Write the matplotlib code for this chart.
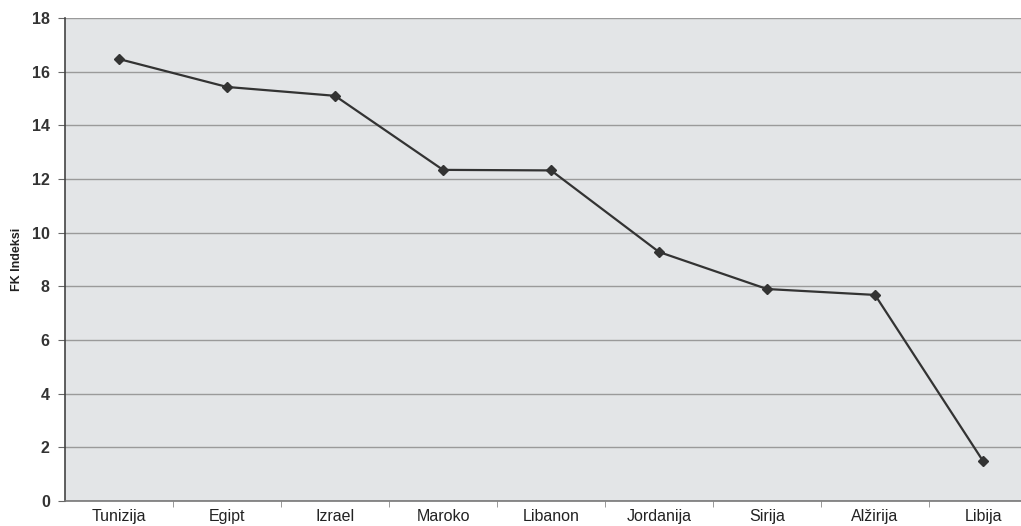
import matplotlib
matplotlib.use("Agg")
import matplotlib.pyplot as plt
from matplotlib.ticker import FixedLocator, MultipleLocator

countries = ["Tunizija", "Egipt", "Izrael", "Maroko", "Libanon",
             "Jordanija", "Sirija", "Alžirija", "Libija"]
fk_index = [16.47, 15.43, 15.10, 12.34, 12.32, 9.28, 7.90, 7.68, 1.49]

BG_COLOR = "#e3e5e7"
GRID_COLOR = "#9a9a9a"
LINE_COLOR = "#333333"

plt.rcParams["font.family"] = ["Liberation Sans", "DejaVu Sans"]

fig = plt.figure(figsize=(10.21, 5.26), dpi=100)
# plot area runs slightly past the right edge of the canvas
ax = fig.add_axes([0.0637, 0.0475, 0.952, 0.9183])
ax.set_facecolor(BG_COLOR)

x = list(range(len(countries)))
ax.plot(x, fk_index, color=LINE_COLOR, linewidth=1.6,
        marker="D", markersize=5.5, markerfacecolor=LINE_COLOR,
        markeredgecolor=LINE_COLOR, zorder=3)

ax.set_xlim(-0.5, len(countries) - 0.5)
ax.set_ylim(0, 18)
ax.yaxis.set_major_locator(MultipleLocator(2))
ax.grid(axis="y", color=GRID_COLOR, linewidth=1.0)
ax.set_axisbelow(True)

# category labels centred, tick marks on the boundaries
ax.set_xticks(x)
ax.set_xticklabels(countries, fontsize=11.5)
ax.tick_params(axis="x", which="major", length=0, pad=6, colors="#222222")
ax.xaxis.set_minor_locator(FixedLocator([i + 0.5 for i in range(len(countries) - 1)]))
ax.tick_params(axis="x", which="minor", length=4, color="#888888", direction="out")

ax.tick_params(axis="y", length=5, color="#666666", labelsize=11.5, pad=6)
for lbl in ax.get_yticklabels():
    lbl.set_fontweight("bold")
    lbl.set_color("#333333")

ax.set_ylabel("FK Indeksi", fontsize=9, fontweight="bold", labelpad=6,
              color="#222222")

for side in ["top", "right"]:
    ax.spines[side].set_visible(False)
ax.spines["left"].set_color("#444444")
ax.spines["left"].set_linewidth(1.2)
ax.spines["bottom"].set_color("#777777")
ax.spines["bottom"].set_linewidth(1.2)

fig.savefig("out.png", dpi=100, facecolor="white")
